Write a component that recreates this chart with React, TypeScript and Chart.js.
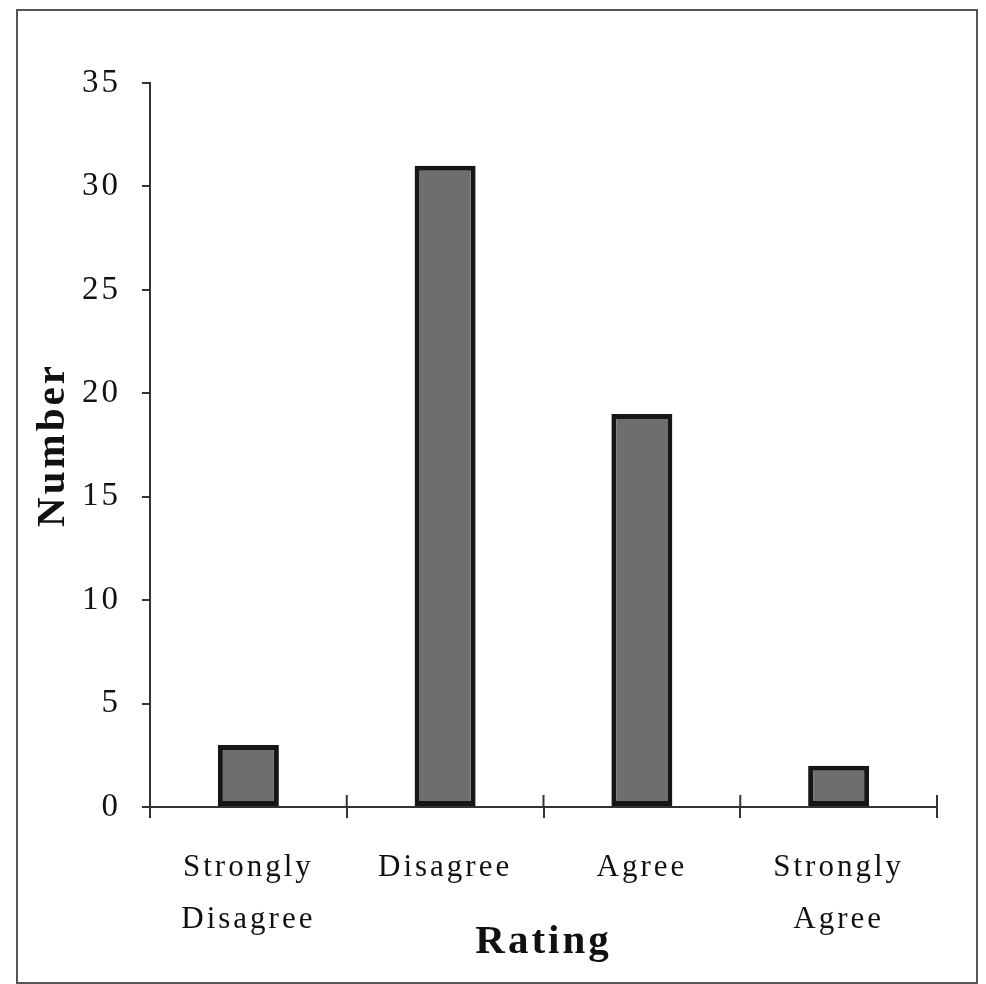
import { useEffect, useRef } from "react";
import { Chart, registerables } from "chart.js";

Chart.register(...registerables);

const categories: (string | string[])[] = [["Strongly", "Disagree"], "Disagree", "Agree", ["Strongly", "Agree"]];
const counts = [3, 31, 19, 2];
const yMin = 0;
const yMax = 35;
const yStep = 5;
const xTitle = "Rating";
const yTitle = "Number";

export default function App() {
  const ref = useRef<HTMLCanvasElement>(null);

  useEffect(() => {
    if (!ref.current) return;
    const spacing = {
      id: "spacing",
      beforeUpdate(c: any) {
        c.ctx.letterSpacing = "3px";
      },
      beforeDraw(c: any) {
        c.ctx.letterSpacing = "3px";
      },
    };
    const crossTicks = {
      id: "crossTicks",
      afterDraw(c: any) {
        const x = c.scales.x;
        const ctx = c.ctx;
        ctx.save();
        ctx.strokeStyle = "#333";
        ctx.lineWidth = 2;
        for (let i = 0; i <= categories.length; i++) {
          const px = x.getPixelForValue(i - 0.5);
          ctx.beginPath();
          ctx.moveTo(px, x.top);
          ctx.lineTo(px, x.top - 12);
          ctx.stroke();
        }
        ctx.restore();
      },
    };
    const serif = "'Liberation Serif', 'Times New Roman', serif";
    const chart = new Chart(ref.current, {
      type: "bar",
      data: {
        labels: categories,
        datasets: [
          {
            data: counts,
            backgroundColor: "#6e6e6e",
            borderColor: "#161616",
            borderWidth: 5,
            borderSkipped: false,
            barPercentage: 0.31,
            categoryPercentage: 1,
          },
        ],
      },
      options: {
        animation: false,
        responsive: false,
        devicePixelRatio: 1,
        layout: { padding: { left: 24, top: 83, right: 49, bottom: 21 } },
        plugins: { legend: { display: false }, tooltip: { enabled: false } },
        scales: {
          x: {
            afterFit(s: any) {
              s.height = 156;
            },
            grid: { drawOnChartArea: false, drawTicks: true, tickLength: 11, color: "#333", lineWidth: 2, offset: true },
            border: { display: true, color: "#333", width: 2 },
            ticks: {
              color: "#111",
              padding: 24,
              font: { family: serif, size: 31, lineHeight: 1.68 },
            },
            title: {
              display: true,
              text: xTitle,
              color: "#111",
              padding: { top: 0, bottom: 0 },
              font: { family: serif, size: 41, weight: "bold", lineHeight: 1 },
            },
          },
          y: {
            min: yMin,
            max: yMax,
            afterFit(s: any) {
              s.width = 126;
            },
            grid: { drawOnChartArea: false, drawTicks: true, tickLength: 8, color: "#333", lineWidth: 2 },
            border: { display: true, color: "#333", width: 2 },
            ticks: {
              stepSize: yStep,
              color: "#111",
              padding: 21,
              font: { family: serif, size: 33 },
            },
            title: {
              display: true,
              text: yTitle,
              color: "#111",
              padding: { top: 9, bottom: 0 },
              font: { family: serif, size: 41, weight: "bold", lineHeight: 1 },
            },
          },
        },
      },
      plugins: [spacing, crossTicks],
    });
    return () => chart.destroy();
  }, []);

  return (
    <div style={{ position: "absolute", left: 0, top: 0, width: 986, height: 984, background: "#fff" }}>
      <canvas ref={ref} width={986} height={984} style={{ position: "absolute", left: 0, top: 0, width: 986, height: 984 }} />
      <div
        style={{
          position: "absolute",
          left: 16,
          top: 9,
          width: 962,
          height: 975,
          border: "2px solid #555",
          boxSizing: "border-box",
          pointerEvents: "none",
        }}
      />
    </div>
  );
}
